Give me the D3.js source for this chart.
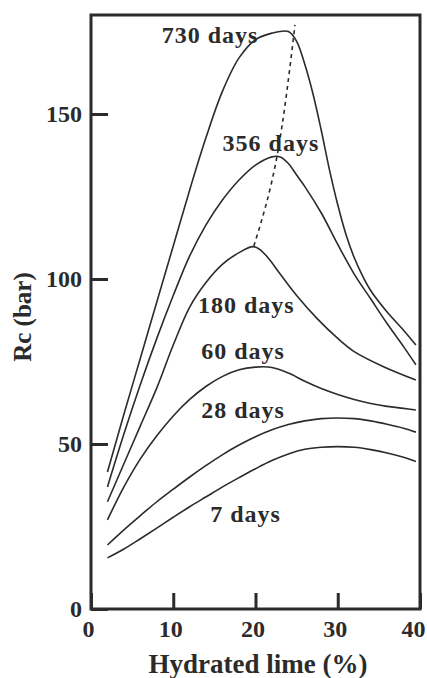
<!DOCTYPE html>
<html>
<head>
<meta charset="utf-8">
<script src="https://cdn.jsdelivr.net/npm/d3@7"></script>
<style>
  html, body { margin: 0; padding: 0; background: #fff; }
  svg text { font-family: "Liberation Serif", "Times New Roman", serif; font-weight: bold; fill: #2b2b2b; }
</style>
</head>
<body>
<svg id="chart" width="427" height="678"></svg>
<script>
// curing time series: [hydrated lime %, Rc (bar)]
const days730 = [[2,41.5],[4,59],[6,76],[8,93],[10,110],[12,127],[14,143],[16,157],[18,167],[20,172.5],[22,174.5],[24,175],[25,172],[26,165],[27,156],[28,145],[29,133],[30,122.5],[31,113.5],[32,106.5],[33,101],[34,96.5],[36,90],[38,84.5],[39.5,80]];
const days356 = [[2,37],[4,53],[6,68],[8,82],[10,95],[12,107],[14,116.5],[16,124],[18,130],[20,134.5],[22,137],[23,137],[24,135],[25,131.5],[26,128],[28,120],[30,110.5],[32,101.5],[34,94],[36,86.5],[38,79.5],[39.5,74]];
const days180 = [[2,32.5],[4,44],[6,55.5],[8,67],[10,80],[12,91.5],[14,99],[16,104.5],[18,108],[19.7,109.8],[20.5,109],[21.5,106.5],[23,101.5],[25,95],[27.5,88],[30,82],[32,78],[35.5,73.5],[39.5,69.4]];
const days60 = [[2,27],[4,37],[6,45.5],[8,52.5],[10,58.5],[12,63.5],[14,67.5],[16,70.5],[18,72.5],[20,73.3],[22,73.2],[24,71.5],[26,69],[28,66.8],[30,65],[32,63.5],[34,62.3],[36,61.4],[38,60.8],[39.5,60.3]];
const days28 = [[2,19.4],[4,24],[6,28.3],[8,32.5],[10,36.3],[12,40],[14,43.5],[16,46.8],[18,49.7],[20,52.2],[22,54.3],[24,55.9],[26,57],[28,57.7],[30,57.9],[32,57.7],[34,57],[36,56],[38,54.8],[39.5,53.6]];
const days7 = [[2,15.5],[4,18.2],[6,21.3],[8,24.5],[10,27.8],[12,31],[14,34],[16,37],[18,39.8],[20,42.5],[22,45],[24,47],[26,48.4],[28,49],[30,49.2],[32,49],[34,48.3],[36,47.3],[38,46],[39.5,44.7]];
// dashed line through the maxima
const peakLine = [[19.8,110],[22.6,137],[24.8,177]];

const seriesLabels = ["730 days", "356 days", "180 days", "60 days", "28 days", "7 days"];
const labelAt = [[8.6,171.5],[16.0,138.8],[13.0,89.7],[13.4,75.8],[13.4,57.9],[14.5,26.4]];

const xTicks = [0, 10, 20, 30, 40];
const yTicks = [0, 50, 100, 150];

const svg = d3.select("#chart");

const x = d3.scaleLinear().domain([0, 40]).range([91, 420]);
const y = d3.scaleLinear().domain([0, 180]).range([609, 15]);

const line = d3.line()
  .x(d => x(d[0]))
  .y(d => y(d[1]))
  .curve(d3.curveCatmullRom.alpha(0.5));

// curves
svg.append("g")
  .selectAll("path")
  .data([days730, days356, days180, days60, days28, days7])
  .join("path")
  .attr("d", line)
  .attr("fill", "none")
  .attr("stroke", "#2b2b2b")
  .attr("stroke-width", 1.6);

svg.append("path")
  .datum(peakLine)
  .attr("d", d3.line().x(d => x(d[0])).y(d => y(d[1])).curve(d3.curveNatural))
  .attr("fill", "none")
  .attr("stroke", "#2b2b2b")
  .attr("stroke-width", 1.6)
  .attr("stroke-dasharray", "4,4");

// axes, ticks point inward
const yAxis = svg.append("g")
  .attr("transform", `translate(${x(0)},0)`)
  .call(d3.axisLeft(y).tickValues(yTicks).tickSize(-17).tickPadding(9));

const xAxis = svg.append("g")
  .attr("transform", `translate(0,${y(0)})`)
  .call(d3.axisBottom(x).tickValues(xTicks).tickSize(-16).tickPadding(11));

[xAxis, yAxis].forEach(a => {
  a.select(".domain").remove();
  a.selectAll("line").attr("stroke", "#2b2b2b").attr("stroke-width", 3);
  a.selectAll("text").attr("font-size", 24).attr("fill", "#2b2b2b")
    .style("font-family", '"Liberation Serif", serif').style("font-weight", "bold");
});
xAxis.selectAll("text").attr("dx", d => d === 40 ? -7 : -3);

// frame
svg.append("rect")
  .attr("x", x(0)).attr("y", y(180))
  .attr("width", x(40) - x(0)).attr("height", y(0) - y(180))
  .attr("fill", "none")
  .attr("stroke", "#2b2b2b")
  .attr("stroke-width", 3);

// curve labels
svg.append("g")
  .selectAll("text")
  .data(seriesLabels)
  .join("text")
  .attr("x", (d, i) => x(labelAt[i][0]))
  .attr("y", (d, i) => y(labelAt[i][1]))
  .attr("font-size", 24)
  .attr("letter-spacing", 1)
  .text(d => d);

// axis titles
svg.append("text")
  .attr("x", 258).attr("y", 673)
  .attr("text-anchor", "middle")
  .attr("font-size", 27)
  .text("Hydrated lime (%)");

svg.append("text")
  .attr("transform", "translate(31,317) rotate(-90)")
  .attr("text-anchor", "middle")
  .attr("font-size", 25)
  .text("Rc (bar)");
</script>
</body>
</html>
